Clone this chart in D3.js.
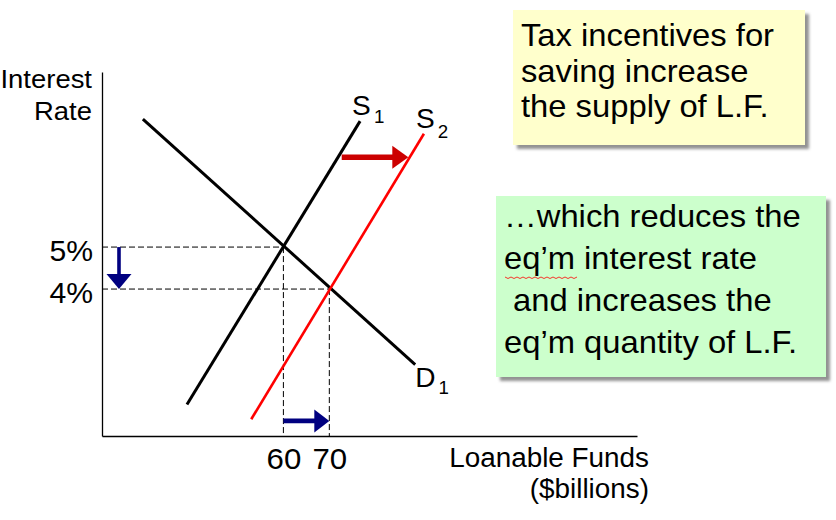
<!DOCTYPE html>
<html>
<head>
<meta charset="utf-8">
<script src="https://cdn.jsdelivr.net/npm/d3@7"></script>
<style>
  html, body { margin: 0; padding: 0; background: #fff; }
  svg { display: block; }
  text { font-family: "Liberation Sans", Arial, sans-serif; fill: #000; }
</style>
</head>
<body>
<svg id="chart" width="836" height="520"></svg>
<script>
// ---------------- data ----------------
const quantityTicks = [60, 70];            // $billions
const rateTicks = [5, 4];                  // percent
const rateTickLabels = ["5%", "4%"];
const supply1 = [[39.0, 1.25], [76.7, 8.0]];   // [quantity, rate]
const supply2 = [[53.0, 0.9], [90.6, 7.7]];
const demand1 = [[29.4, 8.05], [88.7, 2.2]];
const equilibria = [{ q: 60, r: 5 }, { q: 70, r: 4 }];
const curveNames = ["S", "S", "D"];
const curveSubs = ["1", "2", "1"];
const rateArrow = { q: 24.2, from: 5, to: 4 };
const qtyArrow = { r: 0.86, from: 60, to: 70 };
const shiftArrow = { r: 7.14, from: 72.7, to: 87.2 };
const yAxisTitle = ["Interest", "Rate"];
const xAxisTitle = ["Loanable Funds", "($billions)"];
const note1 = ["Tax incentives for", "saving increase", "the supply of L.F."];
const note2 = ["\u2026which reduces the", "eq\u2019m interest rate", " and increases the", "eq\u2019m quantity of L.F."];

// ---------------- setup ----------------
const SX = 1.04; // slight horizontal text stretch of the original slide
const FONT = "Liberation Sans, Arial, sans-serif";
const svg = d3.select("#chart");
const x = d3.scaleLinear().domain([20.5, 137]).range([102, 637]);
const y = d3.scaleLinear().domain([0.5, 9.17]).range([436, 72]);

const defs = svg.append("defs");
const f = defs.append("filter").attr("id", "shadow")
  .attr("x", "-10%").attr("y", "-10%").attr("width", "130%").attr("height", "130%");
f.append("feDropShadow").attr("dx", 4).attr("dy", 4).attr("stdDeviation", 1.6)
  .attr("flood-color", "#7f7f7f").attr("flood-opacity", 0.85);

function stext(g, px, py, str, size, anchor) {
  return g.append("text")
    .attr("transform", `translate(${px},${py}) scale(${SX},1)`)
    .attr("text-anchor", anchor || "start")
    .attr("font-size", size)
    .text(str);
}

// ---------------- axes ----------------
const xAxis = svg.append("g").attr("transform", `translate(0,${y.range()[0]})`)
  .call(d3.axisBottom(x).tickValues(quantityTicks).tickSize(0).tickSizeOuter(0));
xAxis.select(".domain").attr("stroke", "#000").attr("stroke-width", 1.3);
xAxis.selectAll(".tick text")
  .attr("y", null).attr("dy", null)
  .attr("transform", `translate(0,33) scale(${SX},1)`)
  .attr("font-size", 30).attr("font-family", FONT).attr("fill", "#000");

const yAxis = svg.append("g").attr("transform", `translate(${x.range()[0]},0)`)
  .call(d3.axisLeft(y).tickValues(rateTicks).tickSize(0).tickSizeOuter(0)
    .tickFormat((d, i) => rateTickLabels[i]));
yAxis.select(".domain").attr("stroke", "#000").attr("stroke-width", 1.3);
yAxis.selectAll(".tick text")
  .attr("x", null).attr("dy", null)
  .attr("transform", `translate(-9,13) scale(${SX},1)`)
  .attr("font-size", 29).attr("font-family", FONT).attr("fill", "#000");

// axis titles
stext(svg, 92, 88, yAxisTitle[0], 26.4, "end");
stext(svg, 92, 120, yAxisTitle[1], 26.4, "end");
stext(svg, 649, 467, xAxisTitle[0], 26.8, "end");
stext(svg, 649, 498, xAxisTitle[1], 26.8, "end");

// ---------------- guide lines ----------------
const guides = svg.append("g").attr("stroke", "#000").attr("stroke-width", 1)
  .attr("stroke-dasharray", "6,3").attr("fill", "none");
equilibria.forEach(e => {
  guides.append("line").attr("x1", x.range()[0]).attr("x2", x(e.q))
    .attr("y1", y(e.r)).attr("y2", y(e.r));
  guides.append("line").attr("x1", x(e.q)).attr("x2", x(e.q))
    .attr("y1", y(e.r)).attr("y2", y.range()[0]);
});

// ---------------- curves ----------------
const line = d3.line().x(d => x(d[0])).y(d => y(d[1]));
svg.append("path").datum(demand1).attr("d", line)
  .attr("stroke", "#000").attr("stroke-width", 3).attr("fill", "none");
svg.append("path").datum(supply1).attr("d", line)
  .attr("stroke", "#000").attr("stroke-width", 3).attr("fill", "none");
svg.append("path").datum(supply2).attr("d", line)
  .attr("stroke", "#FF0000").attr("stroke-width", 2.6).attr("fill", "none");

// curve labels
function curveLabel(px, py, main, sub, subDy) {
  const t = svg.append("text")
    .attr("transform", `translate(${px},${py}) scale(${SX},1)`)
    .attr("font-size", 27);
  t.append("tspan").text(main);
  t.append("tspan").attr("font-size", 18).attr("dx", 3).attr("dy", subDy).text(sub);
}
curveLabel(x(supply1[1][0]) - 8, y(supply1[1][1]) - 6, curveNames[0], curveSubs[0], 8);
curveLabel(x(supply2[1][0]) - 8, y(supply2[1][1]) - 6, curveNames[1], curveSubs[1], 10);
curveLabel(x(demand1[1][0]) + 0, y(demand1[1][1]) + 22, curveNames[2], curveSubs[2], 7);

// ---------------- arrows ----------------
function hArrow(x0, x1, yy, color, shaftW, headL, headH) {
  svg.append("line").attr("x1", x0).attr("x2", x1 - headL + 1).attr("y1", yy).attr("y2", yy)
    .attr("stroke", color).attr("stroke-width", shaftW);
  svg.append("path")
    .attr("d", `M${x1},${yy} L${x1 - headL},${yy - headH / 2} L${x1 - headL},${yy + headH / 2} Z`)
    .attr("fill", color);
}
function vArrow(xx, y0, y1, color, shaftW, headL, headW) {
  svg.append("line").attr("x1", xx).attr("x2", xx).attr("y1", y0).attr("y2", y1 - headL + 1)
    .attr("stroke", color).attr("stroke-width", shaftW);
  svg.append("path")
    .attr("d", `M${xx},${y1} L${xx - headW / 2},${y1 - headL} L${xx + headW / 2},${y1 - headL} Z`)
    .attr("fill", color);
}
vArrow(x(rateArrow.q), y(rateArrow.from), y(rateArrow.to), "#000080", 3.6, 15, 25);
hArrow(x(qtyArrow.from), x(qtyArrow.to), y(qtyArrow.r), "#000080", 4.6, 15, 23);
hArrow(x(shiftArrow.from), x(shiftArrow.to), y(shiftArrow.r), "#CC0000", 5.5, 16, 23);

// ---------------- notes ----------------
const n1 = svg.append("g");
n1.append("rect").attr("x", 513).attr("y", 10).attr("width", 292).attr("height", 135)
  .attr("fill", "#FFFFCC").attr("filter", "url(#shadow)");
note1.forEach((s, i) => stext(n1, 521, 46 + i * 35.5, s, 31.5));

const n2 = svg.append("g");
n2.append("rect").attr("x", 496).attr("y", 196).attr("width", 330).attr("height", 181)
  .attr("fill", "#CCFFCC").attr("filter", "url(#shadow)");
note2.forEach((s, i) => {
  stext(n2, 504, 227 + i * 42, s, 31.5).attr("xml:space", "preserve").style("white-space", "pre");
});
// spell-check squiggle under "eq'm"
let sq = "M505,277";
for (let k = 1; k <= 24; k++) sq += ` L${505 + k * 3},${277 + (k % 2 ? 1.5 : 0)}`;
n2.append("path").attr("d", sq).attr("stroke", "#FF0000").attr("stroke-width", 0.8).attr("fill", "none");
</script>
</body>
</html>
